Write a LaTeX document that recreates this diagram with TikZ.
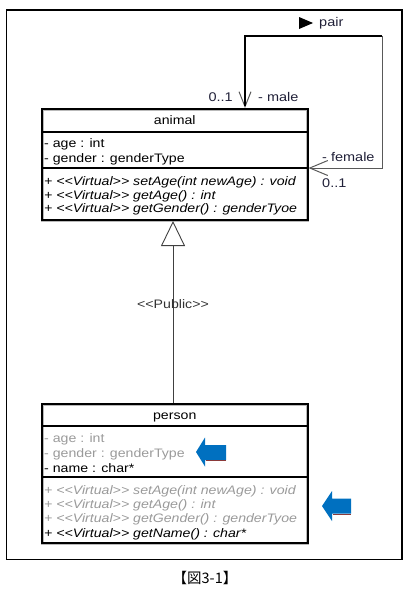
\documentclass[tikz,border=0pt]{standalone}
\usepackage{fontspec}
\setmainfont{Liberation Sans}[FakeStretch=1.15]
\newfontfamily\cjkfont{Noto Sans CJK JP}
\usetikzlibrary{arrows.meta,calc}
\newcommand\dlt{<\kern0pt<}
\newcommand\dgt{>\kern0pt>}
\definecolor{umlgray}{HTML}{9A9A9A}
\definecolor{lbl}{HTML}{202038}
\definecolor{ablue}{HTML}{0070C0}
\definecolor{ared}{HTML}{8A3A3A}
\tikzset{
  classbox/.style={rectangle, draw=black, line width=2pt, inner sep=0pt,
    minimum width=265.5pt, preaction={draw=gray!55, line width=3pt}},
  sepline/.style={draw=black, line width=2pt},
  rowtxt/.style={anchor=base west, inner sep=0pt, font=\fontsize{12.3}{13}\selectfont},
  methtxt/.style={rowtxt, font=\fontsize{12.3}{13}\selectfont\itshape},
  titletxt/.style={anchor=base, inner sep=0pt, font=\fontsize{12.3}{13}\selectfont},
  faded/.style={text=umlgray},
  lbltxt/.style={inner sep=0pt, font=\fontsize{12.6}{13}\selectfont, text=lbl},
  gen/.style={-{Triangle[open, length=25pt, width=24pt, fill=white, line width=0.9pt]},
    line width=0.9pt, draw=black!75},
  assocthin/.style={{Straight Barb[length=15pt, width=12pt, line width=1pt]}-{Straight Barb[length=18pt, width=15pt, line width=1pt]},
    line width=1pt, draw=black!65},
  assocthick/.style={line width=1.8pt, draw=black},
  blockarrow/.style={fill=ablue, draw=none},
  frame/.style={draw=black, line width=1.2pt}
}
\begin{document}
\begin{tikzpicture}[x=1pt,y=-1pt]
\useasboundingbox (0,0) rectangle (410,589);
\node[frame, rectangle, minimum width=395.5pt, minimum height=549.5pt, inner sep=0pt] (outer) at (204.25,284.75) {};

% animal class
\node[classbox, minimum height=111pt] (animal) at (174.75,164.5) {};
\draw[sepline] (animal.west |- 0,132) -- (animal.east |- 0,132);
\draw[sepline] (animal.west |- 0,168) -- (animal.east |- 0,168);
\node[titletxt] (atitle) at (174.75,124.5) {animal};
\node[rowtxt] (a1) at (44,147.5) {- age : int};
\node[rowtxt] (a2) at (44,162) {- gender : genderType};
\node[methtxt] (am1) at (44,185.5) {+ \dlt Virtual\dgt\ setAge(int newAge) : void};
\node[methtxt] (am2) at (44,199) {+ \dlt Virtual\dgt\ getAge() : int};
\node[methtxt] (am3) at (44,212.5) {+ \dlt Virtual\dgt\ getGender() : genderTyoe};

% person class
\node[classbox, minimum height=139pt] (person) at (174.75,473.5) {};
\draw[sepline] (person.west |- 0,426) -- (person.east |- 0,426);
\draw[sepline] (person.west |- 0,477) -- (person.east |- 0,477);
\node[titletxt] (ptitle) at (174.75,419.5) {person};
\node[rowtxt, faded] (p1) at (44,442.5) {- age : int};
\node[rowtxt, faded] (p2) at (44,457.5) {- gender : genderType};
\node[rowtxt] (p3) at (44,472.5) {- name : char*};
\node[methtxt, faded] (pm1) at (44,494.5) {+ \dlt Virtual\dgt\ setAge(int newAge) : void};
\node[methtxt, faded] (pm2) at (44,508.5) {+ \dlt Virtual\dgt\ getAge() : int};
\node[methtxt, faded] (pm3) at (44,522.5) {+ \dlt Virtual\dgt\ getGender() : genderTyoe};
\node[methtxt] (pm4) at (44,537.5) {+ \dlt Virtual\dgt\ getName() : char*};

% generalization
\coordinate (gx) at (173,0);
\draw[gen] (person.north -| gx) -- (animal.south -| gx);
\node[inner sep=0pt, font=\fontsize{12.3}{13}\selectfont, text=black!80] (pub) at (173,304) {\dlt Public\dgt};

% self association
\coordinate (m) at (245,0);
\coordinate (c1) at (245,36);
\coordinate (c2) at (382,36);
\coordinate (f) at (0,168);
\draw[assocthin] (animal.north -| m) -- (c1) -- (c2) -- (c2 |- f) -- (animal.east |- f);
\draw[assocthick] (animal.north -| m) ++(0,-2) -- (c1) -- (c2);
\fill[black] (299,17) -- (313,23) -- (299,29) -- cycle;
\node[lbltxt, anchor=west] (pair) at (319,23) {pair};
\node[lbltxt, anchor=east] (m01) at (233,97) {0..1};
\node[lbltxt, anchor=west] (male) at (258,97) {- male};
\node[lbltxt, anchor=west] (female) at (322,157) {- female};
\node[lbltxt, anchor=west] (f01) at (322,183) {0..1};

% blue arrows
\fill[blockarrow] (196,452) -- (205,437.5) -- (205,445) -- (226,445) -- (226,460) -- (205,460) -- (205,466.5) -- cycle;
\draw[ared, line width=0.6pt] (206,460.3) -- (226,460.3);
\fill[blockarrow] (322,506) -- (332,491) -- (332,498.5) -- (351,498.5) -- (351,513.5) -- (332,513.5) -- (332,521) -- cycle;
\draw[ared, line width=0.6pt] (333,513.8) -- (351,513.8);

% caption
\node[inner sep=0pt, font=\cjkfont\fontsize{14.5}{16}\selectfont] (cap) at (205,578) {【図3-1】};
\end{tikzpicture}
\end{document}
